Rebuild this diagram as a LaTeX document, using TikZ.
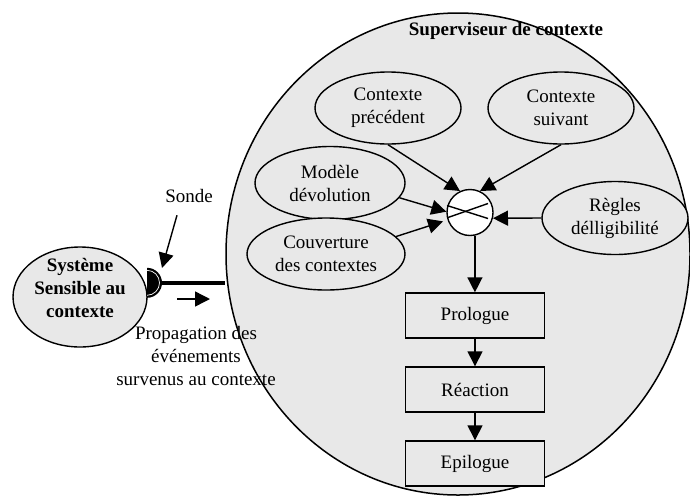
\documentclass[tikz,border=0pt]{standalone}
\usepackage{fontspec}
\setmainfont{Liberation Serif}
\usetikzlibrary{shapes.geometric,arrows.meta}
\definecolor{bg}{RGB}{232,232,232}
\begin{document}
\begin{tikzpicture}[x=1pt,y=-1pt,
  font=\fontsize{19}{23}\selectfont,
  bubble/.style={ellipse,draw,fill=bg,line width=1.4pt,inner sep=0pt,align=center},
  stage/.style={rectangle,draw,fill=bg,line width=1.4pt,minimum width=139pt,minimum height=45pt,inner sep=0pt},
  arr/.style={line width=1.4pt,-{Triangle[length=15pt,width=15pt]}},
]
\useasboundingbox (0,0) rectangle (690,496);
% supervisor
\node[bubble,line width=1.5pt,minimum width=464pt,minimum height=482pt] (sup) at (458,254) {};
\node[font=\fontsize{19}{23}\selectfont\bfseries] (suptitle) at (506,31) {Superviseur de contexte};
% context-aware system and its probe
\node[bubble,minimum width=134pt,minimum height=100pt] (sys) at (80,297) {};
\node[align=center,font=\fontsize{19}{23}\selectfont\bfseries] (systxt) at (80,288) {Système\\Sensible au\\contexte};
\node[circle,minimum size=30pt,inner sep=0pt] (probe) at (147,283) {};
\fill (probe.north) arc (-90:90:15) -- cycle;
\draw[white,line width=0.7pt] ([yshift=-2.5pt]probe.north) arc (-90:90:12.5);
\draw[line width=3.6pt] (probe.east) -- (probe.east -| sup.west);
\node (sondelbl) at (189,196) {Sonde};
\coordinate (sondetip) at (162,268);
\draw[arr] ([xshift=-12pt,yshift=-9pt]sondelbl.south) -- (sondetip);
\coordinate (pa) at (177,299);
\coordinate (pb) at (210,299);
\draw[arr] (pa) -- (pb);
\node[align=center] (prop) at (196,356) {Propagation des\\événements\\survenus au contexte};
% inputs
\node[bubble,minimum width=146pt,minimum height=72pt] (prec) at (388,108) {Contexte\\précédent};
\node[bubble,minimum width=146pt,minimum height=72pt] (suiv) at (561,108) {Contexte\\suivant};
\node[bubble,minimum width=150pt,minimum height=73pt] (mod) at (330,183) {Modèle\\dévolution};
\node[bubble,minimum width=158pt,minimum height=72pt] (couv) at (326,254) {Couverture\\des contextes};
\node[bubble,minimum width=146pt,minimum height=73pt] (reg) at (615,218) {Règles\\délligibilité};
% combination operator
\node[circle,draw,fill=white,line width=1.4pt,minimum size=46pt,inner sep=0pt] (op) at (470,212.5) {};
\draw[line width=1.4pt] ([shift={(-23,-7)}]op.center) -- ([shift={(18,6)}]op.center);
\draw[line width=1.4pt] ([shift={(-22,5)}]op.center) -- ([shift={(18,-9)}]op.center);
\draw[arr] (prec.south) -- (op.115);
\draw[arr] (suiv.south) -- (op.65);
\draw[arr] (mod.-12) -- (op.178);
\draw[arr] (couv.14) -- ([xshift=-5pt]op.-158);
\draw[arr] (reg.west) -- (op.-14);
% stages
\node[stage] (pro) at (475,315.5) {Prologue};
\node[stage] (rea) at (475,389.5) {Réaction};
\node[stage] (epi) at (475,463.5) {Epilogue};
\draw[arr] (op.-78) -- (op.-78 |- pro.north);
\draw[arr] (pro.south) -- (rea.north);
\draw[arr] (rea.south) -- (epi.north);
\end{tikzpicture}
\end{document}
